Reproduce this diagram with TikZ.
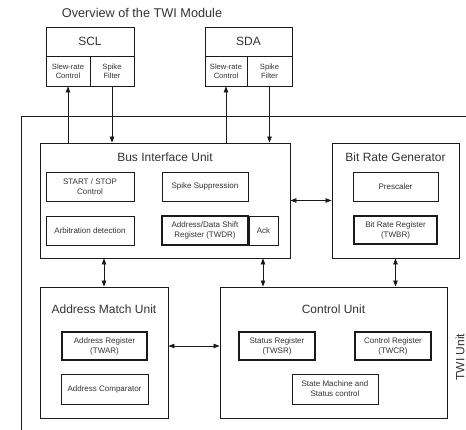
\documentclass[tikz,border=0pt]{standalone}
\usepackage{fontspec}
\setmainfont{Liberation Sans}
\usetikzlibrary{arrows.meta}
\definecolor{txt}{HTML}{333333}
\definecolor{ln}{HTML}{1A1A1A}
\begin{document}
\begin{tikzpicture}[x=1pt,y=-1pt,
  box/.style={draw=ln, line width=0.8pt, inner sep=0pt, align=center, text=txt,
    font=\fontsize{8}{10}\selectfont},
  regbox/.style={box, line width=2.2pt},
  subbox/.style={box, font=\fontsize{7.6}{9.3}\selectfont},
  unitbox/.style={draw=ln, line width=0.9pt, inner sep=0pt},
  ttl/.style={text=txt, inner sep=0pt, font=\fontsize{12}{14}\selectfont},
  arr/.style={draw=ln, line width=0.6pt, -{Triangle[length=6pt,width=4.5pt]}},
  barr/.style={draw=ln, line width=0.6pt, {Triangle[length=6pt,width=4.5pt]}-{Triangle[length=6pt,width=4.5pt]}}]
\useasboundingbox (0,0) rectangle (466,430);
\fill[white] (0,0) rectangle (466,430);

% title
\node[ttl, font=\fontsize{12.7}{15}\selectfont] (title) at (142,13) {Overview of the TWI Module};

% outer TWI unit frame
\coordinate (otr) at (466,116);
\coordinate (otl) at (21,116);
\coordinate (obl) at (21,430);
\draw[ln, line width=0.9pt] (otr) -- (otl) -- (obl);
\node[ttl, rotate=90] (twi) at (460,357) {TWI Unit};

% SCL
\node[box, minimum width=88pt, minimum height=29pt, font=\fontsize{12}{14}\selectfont] (scl) at (90,41.5) {SCL};
\node[subbox, minimum width=44pt, minimum height=30pt] (sclslew) at (68,71) {Slew-rate\\Control};
\node[subbox, minimum width=44pt, minimum height=30pt] (sclspike) at (112,71) {Spike\\Filter};

% SDA
\node[box, minimum width=87pt, minimum height=29pt, font=\fontsize{12}{14}\selectfont] (sda) at (248.5,41.5) {SDA};
\node[subbox, minimum width=42pt, minimum height=30pt] (sdaslew) at (226,71) {Slew-rate\\Control};
\node[subbox, minimum width=45pt, minimum height=30pt] (sdaspike) at (269.5,71) {Spike\\Filter};

% Bus Interface Unit
\node[unitbox, minimum width=250pt, minimum height=115pt] (biu) at (165,200.5) {};
\node[ttl] (biut) at (165,157) {Bus Interface Unit};
\node[box, minimum width=88pt, minimum height=29pt] (ss) at (90,186.5) {START / STOP\\Control};
\node[box, minimum width=86pt, minimum height=29pt] (spk) at (205,186.5) {Spike Suppression};
\node[box, minimum width=88pt, minimum height=29pt] (arb) at (90,230.5) {Arbitration detection};
\node[box, minimum width=29pt, minimum height=29pt] (ack) at (263.5,230.5) {Ack};
\node[regbox, minimum width=86pt, minimum height=29pt] (twdr) at (205,230.5) {Address/Data Shift\\Register (TWDR)};

% Bit Rate Generator
\node[unitbox, minimum width=127pt, minimum height=115pt] (brg) at (395.5,200.5) {};
\node[ttl] (brgt) at (395.5,157) {Bit Rate Generator};
\node[box, minimum width=85pt, minimum height=29pt] (pre) at (395.5,186.5) {Prescaler};
\node[regbox, minimum width=83pt, minimum height=28pt] (twbr) at (395.5,230) {Bit Rate Register\\(TWBR)};

% Address Match Unit
\node[unitbox, minimum width=128pt, minimum height=131pt] (amu) at (104,352.5) {};
\node[ttl] (amut) at (104,309) {Address Match Unit};
\node[regbox, minimum width=85pt, minimum height=28pt] (twar) at (104.5,346) {Address Register\\(TWAR)};
\node[box, minimum width=87pt, minimum height=30pt] (acmp) at (104.5,389) {Address Comparator};

% Control Unit
\node[unitbox, minimum width=227pt, minimum height=131pt] (cu) at (333.5,352.5) {};
\node[ttl] (cut) at (333.5,309) {Control Unit};
\node[regbox, minimum width=76pt, minimum height=28pt] (twsr) at (277,346) {Status Register\\(TWSR)};
\node[regbox, minimum width=76pt, minimum height=28pt] (twcr) at (393,346) {Control Register\\(TWCR)};
\node[box, minimum width=86pt, minimum height=30pt] (sm) at (335,389) {State Machine and\\Status control};

% connectors
\draw[arr] (biu.north -| sclslew) -- (sclslew.south);
\draw[arr] (sclspike.south) -- (biu.north -| sclspike);
\draw[arr] (biu.north -| sdaslew) -- (sdaslew.south);
\draw[arr] (sdaspike.south) -- (biu.north -| sdaspike);
\draw[barr] (biu.east) -- (brg.west);
\draw[barr] (biu.south -| amu) -- (amu.north);
\coordinate (bcx) at (263,0);
\draw[barr] (biu.south -| bcx) -- (cu.north -| bcx);
\draw[barr] (brg.south) -- (cu.north -| brg);
\draw[barr] (amu.east |- twar) -- (cu.west |- twar);
\end{tikzpicture}
\end{document}
